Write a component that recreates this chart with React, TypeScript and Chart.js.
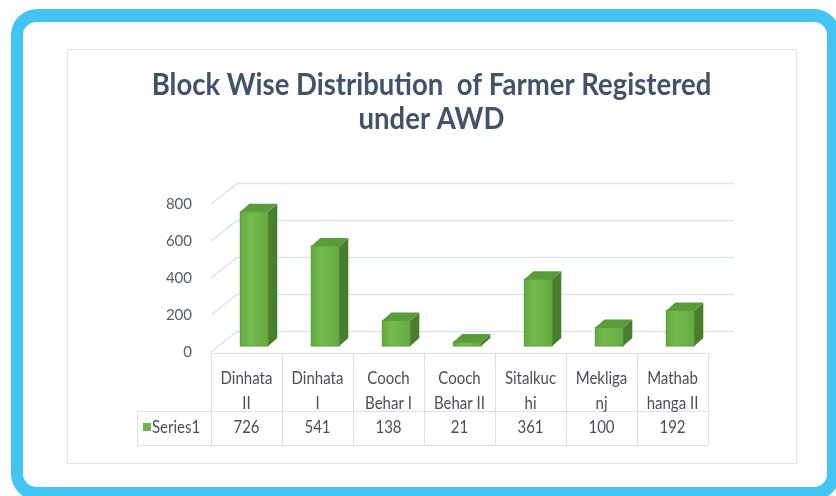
import React, { useEffect, useRef } from "react";
import { Chart, registerables } from "chart.js";

Chart.register(...registerables);

// ---- data ----
const categories: string[][] = [
  ["Dinhata", "II"],
  ["Dinhata", "I"],
  ["Cooch", "Behar I"],
  ["Cooch", "Behar II"],
  ["Sitalkuc", "hi"],
  ["Mekliga", "nj"],
  ["Mathab", "hanga II"],
];
const seriesName = "Series1";
const values = [726, 541, 138, 21, 361, 100, 192];
const yTicks = [0, 200, 400, 600, 800];
const titleLines = ["Block Wise Distribution  of Farmer Registered", "under AWD"];

// ---- style ----
const FRONT = "#6db446";
const SIDE = "#4a7e2c";
const TOP = "#5c9b3a";
const GRID = "#dbe3ee";
const TABLE_LINE = "#d7dfe9";
const TEXT = "#4a4f57";
const TITLE = "#42526b";
const FONT = "Lato, 'Open Sans', sans-serif";

function stretchText(
  ctx: CanvasRenderingContext2D,
  text: string,
  x: number,
  y: number,
  font: string,
  color: string,
  sy: number,
  align: CanvasTextAlign = "center"
) {
  ctx.save();
  ctx.font = font;
  ctx.fillStyle = color;
  ctx.textAlign = align;
  ctx.textBaseline = "alphabetic";
  ctx.translate(x, y);
  ctx.scale(1, sy);
  ctx.fillText(text, 0, 0);
  ctx.restore();
}

const BAR_DX = 7.8;
const BAR_DY = -6;
const WALL_DX = 26;
const WALL_DY = -20.5;
const DEPTH_DX = 9;
const DEPTH_DY = -8;

const threeD = {
  id: "threeD",
  beforeDatasetsDraw(chart: any) {
    const { ctx, chartArea } = chart;
    const yScale = chart.scales.y;
    ctx.save();
    ctx.strokeStyle = GRID;
    ctx.lineWidth = 1.5;
    for (const v of yTicks) {
      const yf = yScale.getPixelForValue(v);
      ctx.beginPath();
      ctx.moveTo(chartArea.left, yf);
      ctx.lineTo(chartArea.left + WALL_DX, yf + WALL_DY);
      ctx.lineTo(chartArea.right + WALL_DX, yf + WALL_DY);
      ctx.stroke();
    }
    ctx.restore();
    ctx.save();
    ctx.translate(BAR_DX, BAR_DY);
  },
  afterDatasetsDraw(chart: any) {
    const { ctx } = chart;
    const meta = chart.getDatasetMeta(0);
    meta.data.forEach((bar: any) => {
      const { x, y, base, width } = bar.getProps(["x", "y", "base", "width"], true);
      const l = x - width / 2;
      const r = x + width / 2;
      // front shading
      const g = ctx.createLinearGradient(l, 0, r, 0);
      g.addColorStop(0, "#62aa40");
      g.addColorStop(0.35, "#74bb4f");
      g.addColorStop(1, "#63ab41");
      ctx.fillStyle = g;
      ctx.fillRect(l, y, width, base - y);
      ctx.strokeStyle = "#5a9a3a";
      ctx.lineWidth = 1;
      ctx.strokeRect(l, y, width, base - y);
      // side
      ctx.fillStyle = SIDE;
      ctx.beginPath();
      ctx.moveTo(r, y);
      ctx.lineTo(r + DEPTH_DX, y + DEPTH_DY);
      ctx.lineTo(r + DEPTH_DX, base + DEPTH_DY);
      ctx.lineTo(r, base);
      ctx.closePath();
      ctx.fill();
      // top
      ctx.fillStyle = TOP;
      ctx.beginPath();
      ctx.moveTo(l, y);
      ctx.lineTo(l + DEPTH_DX, y + DEPTH_DY);
      ctx.lineTo(r + DEPTH_DX, y + DEPTH_DY);
      ctx.lineTo(r, y);
      ctx.closePath();
      ctx.fill();
    });
    ctx.restore();
  },
  afterDraw(chart: any) {
    const { ctx, chartArea, width } = chart;
    const xScale = chart.scales.x;
    // title
    const cx = width / 2;
    stretchText(ctx, titleLines[0], cx, 46, `bold 27.5px ${FONT}`, TITLE, 1.12);
    stretchText(ctx, titleLines[1], cx, 80, `bold 27.5px ${FONT}`, TITLE, 1.12);

    // data table
    const colW = xScale.getPixelForValue(1) - xScale.getPixelForValue(0);
    const top = chartArea.bottom + 1;
    const mid = top + 58;
    const bottom = mid + 34;
    const legendLeft = 70;
    ctx.save();
    ctx.strokeStyle = TABLE_LINE;
    ctx.lineWidth = 1;
    ctx.beginPath();
    ctx.moveTo(chartArea.left, top + 0.5);
    ctx.lineTo(chartArea.right, top + 0.5);
    ctx.moveTo(legendLeft, mid + 0.5);
    ctx.lineTo(chartArea.right, mid + 0.5);
    ctx.moveTo(legendLeft, bottom + 0.5);
    ctx.lineTo(chartArea.right, bottom + 0.5);
    ctx.moveTo(legendLeft + 0.5, mid);
    ctx.lineTo(legendLeft + 0.5, bottom);
    for (let i = 0; i <= categories.length; i++) {
      const xe = Math.round(xScale.getPixelForValue(0) - colW / 2 + i * colW) + 0.5;
      ctx.moveTo(xe, top);
      ctx.lineTo(xe, bottom);
    }
    ctx.stroke();
    ctx.restore();

    const f = `15px ${FONT}`;
    categories.forEach((lines, i) => {
      const xc = xScale.getPixelForValue(i);
      stretchText(ctx, lines[0], xc, top + 31, f, TEXT, 1.15);
      stretchText(ctx, lines[1], xc, top + 56, f, TEXT, 1.15);
      stretchText(ctx, String(values[i]), xc, mid + 22, f, TEXT, 1.15);
    });
    // legend key
    ctx.fillStyle = FRONT;
    ctx.fillRect(legendLeft + 6, mid + 12, 8, 8);
    stretchText(ctx, seriesName, legendLeft + 15, mid + 22, f, TEXT, 1.15, "left");
  },
};

export default function App() {
  const ref = useRef<HTMLCanvasElement | null>(null);
  useEffect(() => {
    document.body.style.margin = "0";
    const canvas = ref.current!;
    const chart = new Chart(canvas, {
      type: "bar",
      data: {
        labels: categories.map((c) => c.join(" ")),
        datasets: [
          {
            label: seriesName,
            data: values,
            backgroundColor: FRONT,
            borderColor: "#5e9f3c",
            borderWidth: 1,
            barPercentage: 0.394,
            categoryPercentage: 1,
            clip: false as any,
          },
        ],
      },
      options: {
        responsive: false,
        animation: false,
        devicePixelRatio: 1,
        layout: { padding: { top: 155, right: 88, bottom: 111, left: 0 } },
        plugins: {
          legend: { display: false },
          title: { display: false },
          tooltip: { enabled: false },
        },
        scales: {
          x: { display: false, offset: true },
          y: {
            min: 0,
            max: 800,
            afterFit: (s: any) => {
              s.width = 144;
            },
            afterBuildTicks: (s: any) => {
              s.ticks = yTicks.map((v) => ({ value: v }));
            },
            grid: { display: false, drawTicks: false },
            border: { display: false },
            ticks: {
              padding: 19,
              color: "#555d6b",
              font: { family: "Lato", size: 15 },
            },
          },
        },
      },
      plugins: [threeD],
    });
    return () => chart.destroy();
  }, []);

  return (
    <div style={{ position: "relative", width: 836, height: 496, overflow: "hidden", background: "#fff" }}>
      <div
        style={{
          position: "absolute",
          left: 11,
          top: 9,
          width: 829,
          height: 491,
          boxSizing: "border-box",
          border: "13px solid #42c5f2",
          borderLeftWidth: 12,
          borderRadius: 26,
        }}
      />
      <div
        style={{
          position: "absolute",
          left: 67,
          top: 49,
          width: 730,
          height: 415,
          boxSizing: "border-box",
          border: "1px solid #dde3ec",
        }}
      />
      <canvas ref={ref} width={729} height={414} style={{ position: "absolute", left: 67, top: 49 }} />
    </div>
  );
}
